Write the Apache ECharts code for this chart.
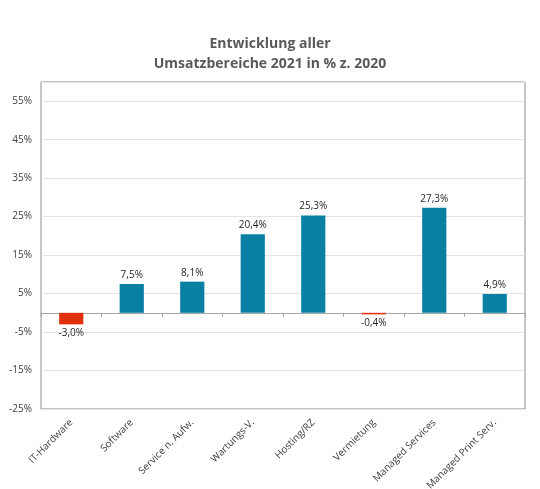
<!DOCTYPE html>
<html>
<head>
<meta charset="utf-8">
<script src="https://cdn.jsdelivr.net/npm/echarts@6/dist/echarts.min.js"></script>
<style>
  html, body { margin: 0; padding: 0; background: #fff; }
  #chart { width: 540px; height: 489px; }
</style>
</head>
<body>
<div id="chart"></div>
<script>
// Bereiche und Veränderung 2021 zu 2020 in %
var categories = ['IT-Hardware', 'Software', 'Service n. Aufw.', 'Wartungs-V.', 'Hosting/RZ', 'Vermietung', 'Managed Services', 'Managed Print Serv.'];
var changes = [-3.0, 7.5, 8.1, 20.4, 25.3, -0.4, 27.3, 4.9];
var titleLines = ['Entwicklung aller', 'Umsatzbereiche 2021 in % z. 2020'];

var fontName = '"Open Sans", "Liberation Sans", sans-serif';
var chart = echarts.init(document.getElementById('chart'));

var barData = changes.map(function (v) {
    var neg = v < 0;
    return {
        value: v,
        itemStyle: { color: neg ? '#E0300E' : '#0A7FA4' },
        label: { position: neg ? 'bottom' : 'top' }
    };
});

chart.setOption({
    animation: false,
    backgroundColor: '#fff',
    title: {
        text: titleLines.join('\n'),
        left: 'center',
        top: 29,
        textStyle: {
            fontFamily: fontName,
            fontSize: 14,
            fontWeight: 'bold',
            color: '#595959',
            lineHeight: 20
        }
    },
    grid: {
        left: 41,
        right: 15,
        top: 82,
        bottom: 80,
        outerBoundsMode: 'none',
        containLabel: false,
        show: true,
        borderColor: '#8c8c8c',
        borderWidth: 1
    },
    xAxis: {
        type: 'category',
        data: categories,
        axisLine: { onZero: true, lineStyle: { color: '#a6a6a6' } },
        axisTick: { show: true, alignWithLabel: false, length: 4, lineStyle: { color: '#a6a6a6' } },
        axisLabel: {
            interval: 0,
            rotate: 45,
            fontFamily: fontName,
            fontSize: 10,
            color: '#404040',
            margin: 12
        }
    },
    yAxis: {
        type: 'value',
        min: -25,
        max: 60,
        interval: 10,
        axisLine: { show: false },
        axisTick: { show: false },
        splitLine: { lineStyle: { color: '#e3e3e3' } },
        axisLabel: {
            fontFamily: fontName,
            fontSize: 10,
            color: '#404040',
            margin: 9,
            formatter: function (v) {
                return v === 60 ? '' : v + '%';
            }
        }
    },
    series: [{
        type: 'bar',
        data: barData,
        barWidth: '40%',
        label: {
            show: true,
            fontFamily: fontName,
            fontSize: 10,
            color: '#262626',
            distance: 4,
            formatter: function (p) {
                return p.value.toFixed(1).replace('.', ',') + '%';
            }
        }
    }]
});
</script>
</body>
</html>
